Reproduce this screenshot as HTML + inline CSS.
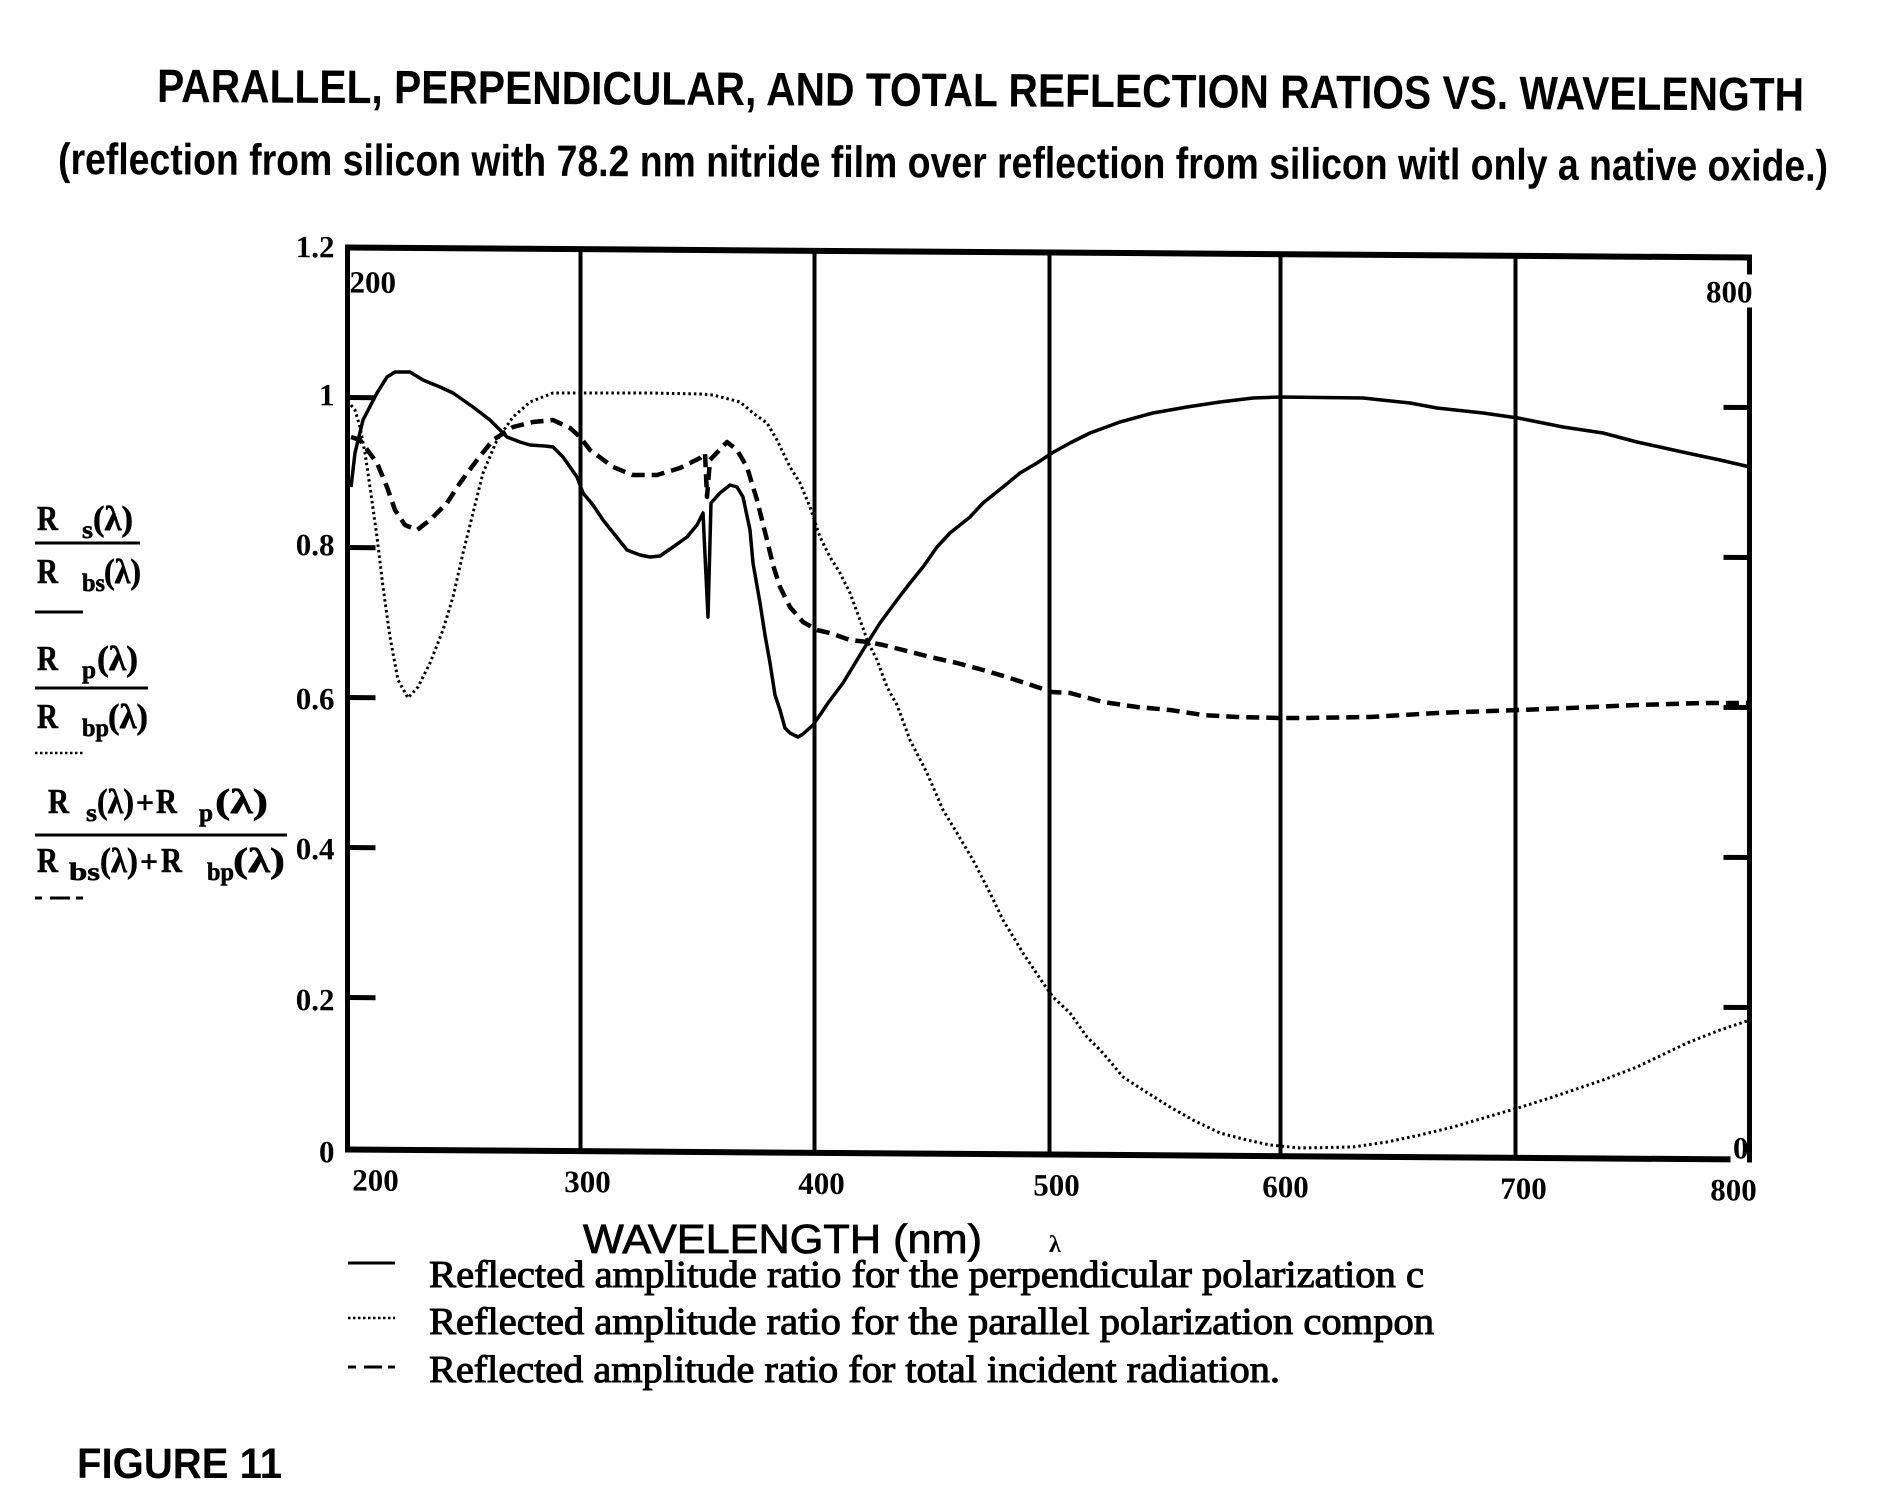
<!DOCTYPE html>
<html>
<head>
<meta charset="utf-8">
<style>
html,body{margin:0;padding:0;background:#fff;}
svg{display:block;}
.sans{font-family:"Liberation Sans",Arial,sans-serif;}
.serif{font-family:"Liberation Serif","Times New Roman",serif;}
</style>
</head>
<body>
<svg width="1883" height="1510" viewBox="0 0 1883 1510" xmlns="http://www.w3.org/2000/svg">
<rect x="0" y="0" width="1883" height="1510" fill="#fff"/>

<!-- Titles -->
<text class="sans" x="157" y="102" font-size="47" font-weight="bold" textLength="1647" lengthAdjust="spacingAndGlyphs" transform="rotate(0.3 157 102)">PARALLEL, PERPENDICULAR, AND TOTAL REFLECTION RATIOS VS. WAVELENGTH</text>
<text class="sans" x="58" y="174" font-size="44" font-weight="bold" textLength="1770" lengthAdjust="spacingAndGlyphs" transform="rotate(0.22 58 174)">(reflection from silicon with 78.2 nm nitride film over reflection from silicon witl only a native oxide.)</text>

<!-- Plot frame (skewed like the scan) -->
<g transform="matrix(1,0.00714,0,1,-2.5,0)" stroke="#000" fill="none">
  <g stroke-width="4">
    <line x1="583" y1="245" x2="583" y2="1147"/>
    <line x1="817" y1="245" x2="817" y2="1147"/>
    <line x1="1052" y1="245" x2="1052" y2="1147"/>
    <line x1="1283" y1="245" x2="1283" y2="1147"/>
    <line x1="1518" y1="245" x2="1518" y2="1147"/>
  </g>
  <line x1="350" y1="242" x2="350" y2="1150" stroke-width="5"/>
  <line x1="348" y1="245" x2="1754" y2="245" stroke-width="6"/>
  <line x1="348" y1="1147" x2="1733" y2="1147" stroke-width="6"/>
  <line x1="1752" y1="242" x2="1752" y2="262" stroke-width="5"/>
  <line x1="1752" y1="295" x2="1752" y2="1150" stroke-width="5"/>
  <g stroke-width="5">
    <line x1="350" y1="395" x2="378" y2="395"/>
    <line x1="350" y1="545" x2="378" y2="545"/>
    <line x1="350" y1="695" x2="378" y2="695"/>
    <line x1="350" y1="845" x2="378" y2="845"/>
    <line x1="350" y1="995" x2="378" y2="995"/>
    <line x1="1726" y1="395" x2="1752" y2="395"/>
    <line x1="1726" y1="545" x2="1752" y2="545"/>
    <line x1="1726" y1="695" x2="1752" y2="695"/>
    <line x1="1726" y1="845" x2="1752" y2="845"/>
    <line x1="1726" y1="995" x2="1752" y2="995"/>
  </g>
  <g stroke="none" fill="#000" class="serif" font-weight="bold" font-size="31">
    <text x="337" y="255" text-anchor="end">1.2</text>
    <text x="337" y="403" text-anchor="end">1</text>
    <text x="337" y="553" text-anchor="end">0.8</text>
    <text x="337" y="707" text-anchor="end">0.6</text>
    <text x="337" y="857" text-anchor="end">0.4</text>
    <text x="337" y="1008" text-anchor="end">0.2</text>
    <text x="337" y="1160" text-anchor="end">0</text>
    <text x="352" y="290">200</text>
    <text x="1755" y="290" text-anchor="end">800</text>
    <text x="1751" y="1146" text-anchor="end">0</text>
    <text x="378" y="1188" text-anchor="middle">200</text>
    <text x="590" y="1188" text-anchor="middle">300</text>
    <text x="824" y="1188" text-anchor="middle">400</text>
    <text x="1059" y="1188" text-anchor="middle">500</text>
    <text x="1288" y="1188" text-anchor="middle">600</text>
    <text x="1526" y="1188" text-anchor="middle">700</text>
    <text x="1736" y="1188" text-anchor="middle">800</text>
  </g>
</g>

<!-- Curves -->
<g fill="none" stroke="#000" stroke-linejoin="round">
  <polyline stroke-width="3.5" points="351,487 355,453 363,420 377,393 387,377 395,372 410,372 423,380 440,387 453,393 473,407 490,420 507,437 520,442 530,445 545,446 553,447 563,457 577,477 583,493 593,505 603,520 615,535 627,550 640,555 650,557 660,556 673,547 687,537 697,525 703,513 708,617 711,503 720,493 730,485 737,487 743,497 750,530 753,563 760,603 765,635 770,663 775,695 780,710 785,728 790,733 798,737 803,734 813,725 820,715 828,703 843,683 857,660 868,642 880,623 897,600 910,583 923,567 937,547 950,533 970,517 983,503 1003,487 1020,473 1037,463 1052,453 1070,443 1090,433 1120,422 1153,413 1187,407 1220,402 1253,398 1280,397 1363,398 1410,403 1437,408 1483,413 1518,418 1563,427 1603,433 1637,442 1687,453 1720,460 1750,467"/>
  <polyline stroke-width="4.5" stroke-dasharray="13 7" points="351,437 360,440 377,463 387,487 395,510 405,525 417,530 430,520 447,503 460,483 477,460 493,440 513,427 533,422 553,420 570,428 580,437 590,450 613,467 633,475 657,475 680,468 700,458 705,453 707,497 710,460 727,442 737,450 747,467 757,500 767,540 773,565 780,587 790,607 803,622 817,630 830,633 850,640 868,642 883,645 903,650 930,657 957,663 983,670 1010,678 1037,687 1052,692 1070,693 1103,702 1137,707 1170,710 1203,715 1237,717 1280,718 1303,718 1370,717 1437,713 1518,710 1570,708 1637,705 1703,703 1750,703"/>
  <polyline stroke-width="3" stroke-dasharray="2.5 3" points="351,405 355,410 360,427 365,453 370,487 377,537 383,587 390,637 398,680 408,698 418,687 430,663 443,630 453,597 463,553 473,513 483,473 497,440 513,417 530,402 553,393 583,393 650,393 700,394 713,395 740,402 753,413 767,423 777,440 790,467 800,483 810,507 820,537 830,557 840,573 850,593 860,620 868,642 877,660 887,687 897,705 910,740 927,773 943,810 957,833 973,860 990,893 1003,920 1023,953 1043,983 1053,997 1070,1013 1087,1037 1103,1053 1123,1077 1143,1090 1170,1107 1193,1120 1220,1133 1247,1140 1270,1145 1300,1148 1353,1147 1387,1142 1420,1135 1453,1127 1487,1117 1518,1108 1553,1097 1603,1080 1637,1067 1687,1043 1720,1030 1750,1020"/>
</g>

<!-- Left-side fraction labels -->
<g class="serif" font-weight="bold" fill="#000" stroke="#000" stroke-width="0.6">
  <text x="37" y="530" font-size="35" textLength="21" lengthAdjust="spacingAndGlyphs">R</text>
  <text x="82" y="538" font-size="25" textLength="11" lengthAdjust="spacingAndGlyphs">s</text>
  <text x="93" y="530" font-size="35" textLength="40" lengthAdjust="spacingAndGlyphs">(λ)</text>
  <text x="37" y="583" font-size="35" textLength="21" lengthAdjust="spacingAndGlyphs">R</text>
  <text x="82" y="591" font-size="25" textLength="23" lengthAdjust="spacingAndGlyphs">bs</text>
  <text x="104" y="583" font-size="35" textLength="37" lengthAdjust="spacingAndGlyphs">(λ)</text>

  <text x="37" y="670" font-size="35" textLength="21" lengthAdjust="spacingAndGlyphs">R</text>
  <text x="82" y="678" font-size="25" textLength="14" lengthAdjust="spacingAndGlyphs">p</text>
  <text x="97" y="670" font-size="35" textLength="41" lengthAdjust="spacingAndGlyphs">(λ)</text>
  <text x="37" y="728" font-size="35" textLength="21" lengthAdjust="spacingAndGlyphs">R</text>
  <text x="82" y="736" font-size="25" textLength="27" lengthAdjust="spacingAndGlyphs">bp</text>
  <text x="108" y="728" font-size="35" textLength="40" lengthAdjust="spacingAndGlyphs">(λ)</text>

  <text x="48" y="813" font-size="35" textLength="21" lengthAdjust="spacingAndGlyphs">R</text>
  <text x="86" y="821" font-size="25" textLength="11" lengthAdjust="spacingAndGlyphs">s</text>
  <text x="97" y="813" font-size="35" textLength="37" lengthAdjust="spacingAndGlyphs">(λ)</text>
  <text x="136" y="813" font-size="32" textLength="18" lengthAdjust="spacingAndGlyphs">+</text>
  <text x="156" y="813" font-size="35" textLength="21" lengthAdjust="spacingAndGlyphs">R</text>
  <text x="199" y="821" font-size="25" textLength="14" lengthAdjust="spacingAndGlyphs">p</text>
  <text x="215" y="813" font-size="35" textLength="53" lengthAdjust="spacingAndGlyphs">(λ)</text>

  <text x="37" y="872" font-size="35" textLength="21" lengthAdjust="spacingAndGlyphs">R</text>
  <text x="69" y="880" font-size="25" textLength="31" lengthAdjust="spacingAndGlyphs">bs</text>
  <text x="100" y="872" font-size="35" textLength="38" lengthAdjust="spacingAndGlyphs">(λ)</text>
  <text x="140" y="872" font-size="32" textLength="18" lengthAdjust="spacingAndGlyphs">+</text>
  <text x="161" y="872" font-size="35" textLength="21" lengthAdjust="spacingAndGlyphs">R</text>
  <text x="207" y="880" font-size="25" textLength="27" lengthAdjust="spacingAndGlyphs">bp</text>
  <text x="233" y="872" font-size="35" textLength="52" lengthAdjust="spacingAndGlyphs">(λ)</text>
</g>
<g stroke="#000" fill="none">
  <line x1="35" y1="543" x2="140" y2="543" stroke-width="3"/>
  <line x1="35" y1="612" x2="83" y2="612" stroke-width="3"/>
  <line x1="35" y1="688" x2="148" y2="688" stroke-width="3"/>
  <line x1="35" y1="753" x2="83" y2="753" stroke-width="2.5" stroke-dasharray="2.5 2.5"/>
  <line x1="35" y1="835" x2="287" y2="835" stroke-width="3"/>
  <line x1="35" y1="898" x2="42" y2="898" stroke-width="3"/>
  <line x1="50" y1="898" x2="70" y2="898" stroke-width="3"/>
  <line x1="76" y1="898" x2="83" y2="898" stroke-width="3"/>
</g>

<!-- X axis title -->
<text class="sans" x="583" y="1253" font-size="41" textLength="399" lengthAdjust="spacingAndGlyphs" stroke="#000" stroke-width="0.8">WAVELENGTH  (nm)</text>
<text class="serif" x="1049" y="1252" font-size="24" font-weight="bold">λ</text>

<!-- Legend -->
<g stroke="#000" fill="none">
  <line x1="348" y1="1263" x2="395" y2="1263" stroke-width="3"/>
  <line x1="348" y1="1318" x2="395" y2="1318" stroke-width="2.5" stroke-dasharray="2.5 2.5"/>
  <line x1="348" y1="1367" x2="356" y2="1367" stroke-width="3"/>
  <line x1="364" y1="1367" x2="382" y2="1367" stroke-width="3"/>
  <line x1="388" y1="1367" x2="395" y2="1367" stroke-width="3"/>
</g>
<g class="serif" font-size="38" fill="#000" stroke="#000" stroke-width="1">
  <text x="429" y="1287" textLength="995" lengthAdjust="spacingAndGlyphs">Reflected amplitude ratio for the perpendicular polarization c</text>
  <text x="429" y="1334" textLength="1005" lengthAdjust="spacingAndGlyphs">Reflected amplitude ratio for the parallel polarization compon</text>
  <text x="429" y="1382" textLength="851" lengthAdjust="spacingAndGlyphs">Reflected amplitude ratio for total incident radiation.</text>
</g>

<text class="sans" x="77" y="1478" font-size="43" font-weight="bold" textLength="205" lengthAdjust="spacingAndGlyphs">FIGURE 11</text>
</svg>
</body>
</html>
